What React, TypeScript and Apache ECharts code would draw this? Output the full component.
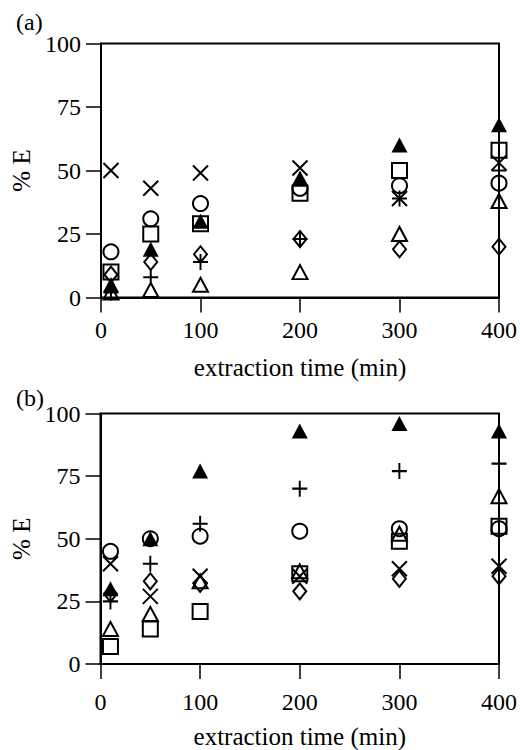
import React, { useEffect, useRef } from "react";
import * as echarts from "echarts";

const times = [10, 50, 100, 200, 300, 400];

// Panel (a)
const aCross = [50, 43, 49, 51, 39, 53];
const aPlus = [2, 8, 14, 23, 39, 50];
const aCircle = [18, 31, 37, 43, 44, 45];
const aSquare = [10, 25, 29, 41, 50, 58];
const aFilledTri = [5, 19, 30, 47, 60, 68];
const aOpenTri = [2, 3, 5, 10, 25, 38];
const aDiamond = [9, 14, 17, 23, 19, 20];

// Panel (b)
const bCross = [40, 27, 35, 35, 38, 39];
const bPlus = [25, 40, 56, 70, 77, 80];
const bCircle = [45, 50, 51, 53, 54, 54];
const bSquare = [7, 14, 21, 36, 49, 55];
const bFilledTri = [30, 50, 77, 93, 96, 93];
const bOpenTri = [14, 20, 33, 37, 52, 67];
const bDiamond = [28, 33, 32, 29, 34, 35];

const xTicks = { min: 0, max: 400, interval: 100 };
const yTicks = { min: 0, max: 100, interval: 25 };

const FONT = "'Liberation Serif', 'Times New Roman', serif";
const TICK_FS = 24;
const NAME_FS = 25;

const markers: Record<string, { symbol: string; size: number | number[]; filled: boolean }> = {
  cross: { symbol: "path://M0,0L14,14M14,0L0,14", size: 15, filled: false },
  plus: { symbol: "path://M7,0L7,16M0,8L14,8", size: [15, 16], filled: false },
  circle: { symbol: "circle", size: 15, filled: false },
  square: { symbol: "rect", size: 15, filled: false },
  filledTri: { symbol: "triangle", size: [16, 15], filled: true },
  openTri: { symbol: "triangle", size: [15, 14], filled: false },
  diamond: { symbol: "diamond", size: [13, 16], filled: false },
};

function makeSeries(kind: string, values: number[], idx: number) {
  const m = markers[kind];
  return {
    type: "scatter",
    name: kind + idx,
    xAxisIndex: idx,
    yAxisIndex: idx,
    symbol: m.symbol,
    symbolSize: m.size,
    data: times.map((t, i) => [t, values[i]]),
    itemStyle: {
      color: m.filled ? "#000" : "rgba(0,0,0,0)",
      borderColor: "#000",
      borderWidth: m.filled ? 0 : 2,
      opacity: 1,
    },
    emphasis: { disabled: true },
    clip: false,
  };
}

function xAxis(gridIndex: number, margin: number, nameGap: number) {
  return {
    gridIndex,
    type: "value",
    ...xTicks,
    axisLine: { show: true, onZero: false, lineStyle: { color: "#000", width: 2 } },
    axisTick: { show: true, length: 15, lineStyle: { color: "#000", width: 1.5 } },
    axisLabel: { color: "#000", fontFamily: FONT, fontSize: TICK_FS, margin },
    splitLine: { show: false },
    name: "extraction time (min)",
    nameLocation: "middle",
    nameGap,
    nameTextStyle: { color: "#000", fontFamily: FONT, fontSize: NAME_FS },
  };
}

function yAxis(gridIndex: number) {
  return {
    gridIndex,
    type: "value",
    ...yTicks,
    axisLine: { show: true, onZero: false, lineStyle: { color: "#000", width: 2 } },
    axisTick: { show: true, length: 15, lineStyle: { color: "#000", width: 1.5 } },
    axisLabel: { color: "#000", fontFamily: FONT, fontSize: TICK_FS, margin: 20 },
    splitLine: { show: false },
    name: "% E",
    nameLocation: "middle",
    nameRotate: 90,
    nameGap: 58,
    nameTextStyle: { color: "#000", fontFamily: FONT, fontSize: NAME_FS },
  };
}

export default function App() {
  const ref = useRef<HTMLDivElement>(null);
  useEffect(() => {
    document.body.style.margin = "0";
    const chart = echarts.init(ref.current!, null, { renderer: "svg" });
    const seriesA = [
      makeSeries("cross", aCross, 0),
      makeSeries("plus", aPlus, 0),
      makeSeries("circle", aCircle, 0),
      makeSeries("square", aSquare, 0),
      makeSeries("filledTri", aFilledTri, 0),
      makeSeries("openTri", aOpenTri, 0),
      makeSeries("diamond", aDiamond, 0),
    ];
    const seriesB = [
      makeSeries("cross", bCross, 1),
      makeSeries("plus", bPlus, 1),
      makeSeries("circle", bCircle, 1),
      makeSeries("square", bSquare, 1),
      makeSeries("filledTri", bFilledTri, 1),
      makeSeries("openTri", bOpenTri, 1),
      makeSeries("diamond", bDiamond, 1),
    ];
    chart.setOption({
      animation: false,
      backgroundColor: "#fff",
      grid: [
        { left: 101, top: 43.5, width: 400, height: 254, show: true, borderColor: "#000", borderWidth: 2, backgroundColor: "transparent" },
        { left: 100.5, top: 413.5, width: 400, height: 256, show: true, borderColor: "#000", borderWidth: 2, backgroundColor: "transparent" },
      ],
      xAxis: [xAxis(0, 20, 57), xAxis(1, 26, 60)],
      yAxis: [yAxis(0), yAxis(1)],
      graphic: [
        { type: "text", left: 16, top: 10, style: { text: "(a)", font: `24px ${FONT}`, fill: "#000" } },
        { type: "text", left: 16, top: 386, style: { text: "(b)", font: `24px ${FONT}`, fill: "#000" } },
      ],
      series: [...seriesA, ...seriesB],
    });
    return () => chart.dispose();
  }, []);
  return <div ref={ref} style={{ width: 520, height: 750 }} />;
}
